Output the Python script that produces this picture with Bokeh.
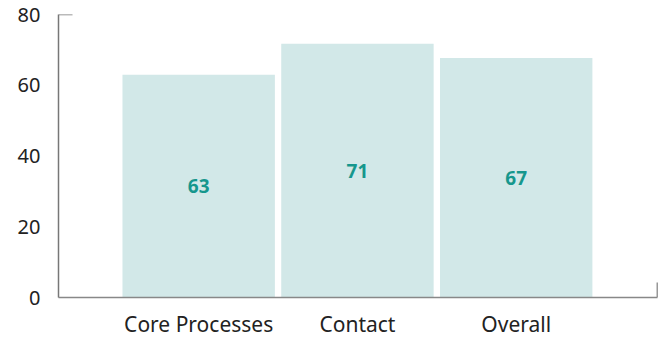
from bokeh.plotting import figure
from bokeh.models import Range1d, FixedTicker, ColumnDataSource
from bokeh.core.properties import value
from bokeh.embed import file_html
from bokeh.resources import INLINE

categories = ["Core Processes", "Contact", "Overall"]
values = [63, 71.7, 67.7]
value_labels = ["63", "71", "67"]
y_ticks = [0, 20, 40, 60, 80]

FONT = "Noto Sans"
X0, X1 = -0.883, 2.89
Y0, Y1 = 0, 80

xs = list(range(len(categories)))
src = ColumnDataSource(dict(
    x=xs, top=values, label=value_labels, ly=[v / 2 for v in values]))

p = figure(width=663, height=340, output_backend="svg", toolbar_location=None,
           x_range=Range1d(X0, X1), y_range=Range1d(Y0, Y1),
           min_border_left=58, min_border_right=6, min_border_top=14,
           min_border_bottom=43)
p.outline_line_color = None
p.grid.visible = False
p.background_fill_color = "white"
p.border_fill_color = "white"

p.vbar(x="x", top="top", width=0.96, bottom=0, source=src,
       fill_color="#d2e8e8", line_color=None)
p.text(x="x", y="ly", text="label", source=src, text_align="center",
       text_baseline="middle", text_font=value(FONT), text_font_style="bold",
       text_font_size="19px", text_color="#16978d")

# axis end caps
p.segment(x0=[X0], y0=[Y1], x1=[X0 + 14 / 158.5], y1=[Y1],
          line_color="#777777", line_width=1.5)
p.segment(x0=[X1], y0=[Y0], x1=[X1], y1=[Y0 + 15 / 3.535],
          line_color="#333333", line_width=1.5)

p.yaxis.ticker = FixedTicker(ticks=y_ticks)
p.yaxis.major_tick_line_color = None
p.yaxis.minor_tick_line_color = None
p.yaxis.axis_line_color = "#777777"
p.yaxis.axis_line_width = 1.5
p.yaxis.major_label_text_font = FONT
p.yaxis.major_label_text_font_size = "20px"
p.yaxis.major_label_text_color = "#222222"
p.yaxis.major_label_standoff = 12

p.xaxis.ticker = FixedTicker(ticks=xs)
p.xaxis.major_label_overrides = {i: c for i, c in zip(xs, categories)}
p.xaxis.major_tick_line_color = None
p.xaxis.minor_tick_line_color = None
p.xaxis.axis_line_color = "#888888"
p.xaxis.axis_line_width = 1.5
p.xaxis.major_label_text_font = FONT
p.xaxis.major_label_text_font_size = "21px"
p.xaxis.major_label_text_color = "#222222"
p.xaxis.major_label_standoff = 6

open("out.html", "w").write(file_html(p, INLINE))
